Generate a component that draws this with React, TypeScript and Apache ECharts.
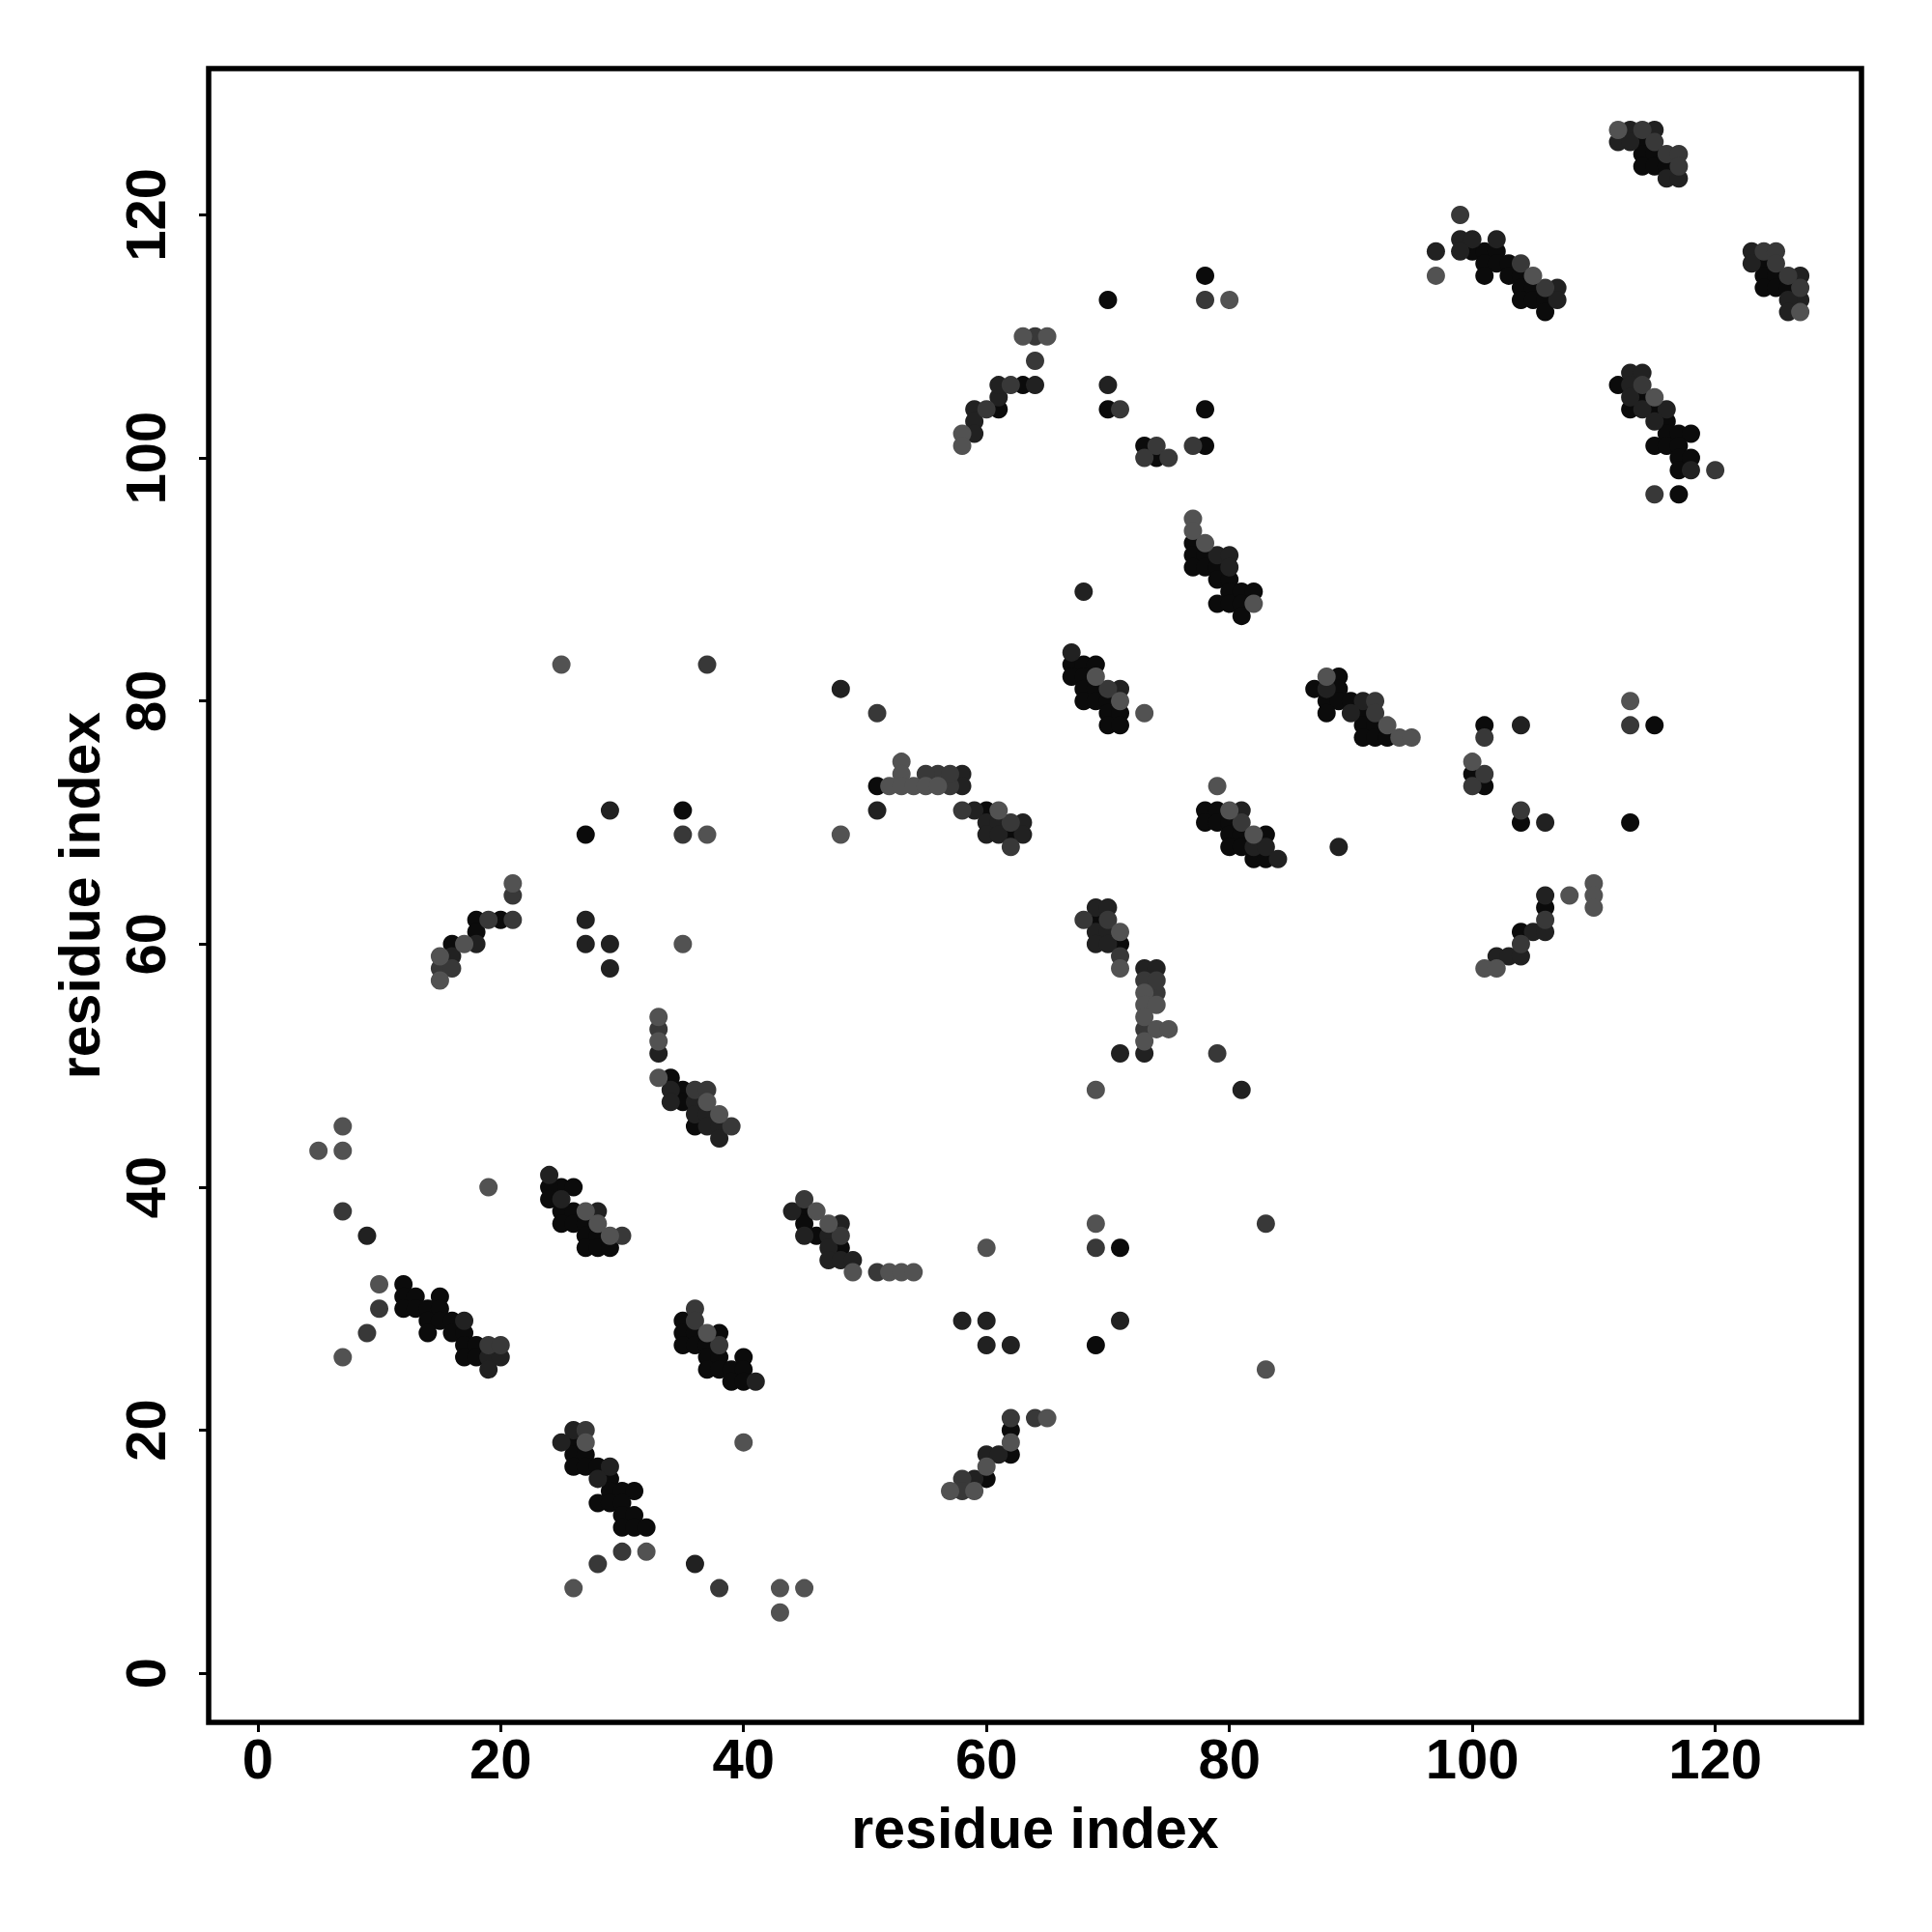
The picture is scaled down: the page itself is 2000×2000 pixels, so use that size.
import React, { useEffect, useRef } from "react";
import * as echarts from "echarts";

// residue contact points [i, j], grouped by grey level (darkest first)
const blackPts: [number, number][] = [
  [78,115],[70,113],[63,106],[70,104],[61,104],[78,104],[73,101],[74,100],[78,101],
  [77,93],[77,92],[78,92],[77,91],[78,91],[79,91],[79,90],[80,90],[80,89],[81,89],[82,89],
  [79,88],[80,88],[81,88],[81,87],
  [114,126],[114,125],[115,125],[114,124],[115,124],[116,124],[100,117],[101,117],[102,117],
  [101,116],[102,116],[103,116],[101,115],[103,115],[104,115],[104,114],[105,114],[104,113],
  [105,113],[106,113],[106,112],[124,116],[124,115],[125,115],[124,114],[125,114],[126,114],
  [112,106],[113,104],[114,105],[115,104],[116,103],[116,102],[117,102],[118,102],[115,101],
  [116,101],[117,101],[117,100],[118,100],[117,99],[117,97],
  [35,71],[27,69],[18,62],[20,62],[18,61],[16,60],[34,49],[35,48],[35,47],[36,45],
  [67,83],[68,83],[69,83],[67,82],[68,82],[68,81],[69,81],[68,80],[69,80],[70,80],[70,79],
  [71,79],[70,78],[71,78],[51,73],[60,71],[62,69],[78,71],[79,71],[78,70],[79,70],[80,70],
  [80,69],[81,69],[83,69],[80,68],[81,68],[82,67],[83,67],[69,62],[71,60],
  [89,82],[87,81],[89,81],[88,80],[89,80],[90,80],[88,79],[91,79],[91,78],[92,78],[91,77],
  [92,77],[93,77],[101,78],[115,78],[100,74],[101,73],[104,70],[113,70],[106,63],[104,61],
  [12,32],[12,31],[13,31],[15,31],[12,30],[13,30],[14,30],[15,30],[14,29],[15,29],[16,29],
  [14,28],[16,28],[17,28],[17,27],[18,27],[17,26],[18,26],[25,40],[26,40],[24,40],[24,39],
  [25,38],[26,38],[25,37],[26,37],[27,37],[27,36],[28,36],[27,35],[28,35],[29,35],[35,29],
  [35,28],[36,28],[38,28],[35,27],[36,27],[37,27],[37,26],[38,26],[40,26],[37,25],[38,25],
  [39,25],[40,25],[39,24],[40,24],[26,19],[26,18],[27,18],[26,17],[27,17],[28,17],[29,16],
  [29,15],[30,15],[31,15],[28,14],[29,14],[30,14],[30,13],[31,13],[30,12],[31,12],[32,12],
  [45,38],[45,37],[46,36],[48,35],[71,35],[69,27],[62,20],[62,18],[60,16]
];

const darkPts: [number, number][] = [
  [64,106],[70,106],[61,105],[59,104],[59,103],[59,102],[79,92],[80,92],[80,91],[68,89],[61,106],
  [113,127],[115,127],[112,126],[113,126],[116,123],[117,123],[97,117],[99,118],[100,118],
  [102,118],[99,117],[107,114],[107,113],[123,117],[123,116],[127,115],[127,113],[126,113],
  [126,112],[113,107],[114,107],[113,106],[113,105],[114,104],[116,104],[115,103],[118,99],
  [29,71],[27,62],[18,60],[27,60],[29,60],[16,59],[29,58],[33,51],[34,48],[34,47],[36,47],
  [36,46],[37,46],[37,45],[38,45],[38,44],
  [67,84],[71,81],[48,81],[58,74],[58,73],[51,71],[59,71],[60,70],[61,70],[63,70],[60,69],
  [61,69],[63,69],[81,71],[82,68],[83,68],[84,67],[69,63],[70,63],[69,61],[70,61],[69,60],
  [70,60],[73,58],[74,58],[73,51],[71,51],[81,48],
  [88,81],[91,80],[90,79],[89,68],[104,78],[106,70],[106,64],[105,61],[106,61],[102,59],
  [103,59],[104,59],
  [9,36],[17,29],[19,26],[20,26],[19,25],[24,41],[25,39],[28,38],[41,24],[26,20],[25,19],
  [29,17],[28,16],[36,9],
  [44,38],[48,37],[45,36],[47,36],[47,35],[47,34],[48,34],[49,34],[58,29],[60,29],[71,29],
  [60,27],[62,27],[60,18],[61,18],[59,16]
];

const mediumPts: [number, number][] = [
  [74,101],[78,113],[64,110],[64,108],[62,106],[60,104],[71,104],[73,100],[75,100],[77,101],
  [114,127],[115,126],[116,125],[117,125],[117,124],[99,120],[104,116],[106,114],[124,117],
  [125,117],[125,116],[126,115],[127,114],[114,106],[120,99],[115,97],
  [37,83],[21,64],[15,58],[16,58],[35,69],[19,62],[21,62],[33,53],[36,48],[37,48],[39,45],
  [70,81],[51,79],[56,74],[57,73],[62,68],[68,62],[71,59],[73,57],[74,56],[79,51],[55,74],
  [57,74],[58,71],[62,70],[81,70],[70,62],[74,57],[73,53],
  [101,74],[104,71],[104,60],[92,80],[92,79],[101,77],[113,78],[100,73],[106,62],
  [7,38],[10,30],[30,36],[36,30],[30,10],[38,7],[27,20],[9,28],[19,27],[20,27],[36,29],
  [38,27],[28,9],
  [51,33],[69,35],[83,37],[64,21],[58,16],[58,15],[45,39],[48,36],[62,21]
];

const grayPts: [number, number][] = [
  [80,113],[63,110],[65,110],[58,102],[58,101],[77,95],[77,94],[78,93],[82,88],
  [112,127],[97,115],[105,115],[127,112],[115,105],
  [25,83],[37,69],[21,65],[17,60],[35,60],[15,59],[15,57],[33,54],[33,52],[33,49],[37,47],
  [38,46],[7,45],[5,43],[7,43],
  [69,82],[71,80],[73,79],[53,75],[53,74],[52,73],[53,73],[54,73],[55,73],[56,73],[48,69],
  [61,71],[79,73],[80,71],[82,69],[71,61],[71,58],[73,56],[73,55],[74,55],[73,54],[74,53],
  [75,53],[73,52],[69,48],
  [88,82],[93,78],[94,77],[95,77],[113,80],[100,75],[110,65],[110,64],[110,63],[108,64],
  [101,58],[102,58],
  [19,40],[10,32],[7,26],[27,38],[28,37],[29,36],[37,28],[40,19],[27,19],[32,10],[26,7],
  [46,38],[47,37],[49,33],[52,33],[53,33],[54,33],[60,35],[69,37],[83,25],[65,21],[62,19],
  [60,17],[57,15],[59,15],[43,7],[45,7],[43,5]
];

const tickValues = [0, 20, 40, 60, 80, 100, 120];
const axisTitle = "residue index";

const FONT = "'Liberation Sans', Arial, Helvetica, sans-serif";

export default function App() {
  const ref = useRef<HTMLDivElement>(null);
  useEffect(() => {
    if (!ref.current) return;
    const chart = echarts.init(ref.current, null, { renderer: "svg" });
    const axisCommon = (isX: boolean) => ({
      type: "value" as const,
      min: -4.04,
      max: 132.04,
      name: axisTitle,
      nameLocation: "middle" as const,
      nameGap: isX ? 80 : 104,
      nameTextStyle: {
        fontFamily: FONT,
        fontWeight: "bold" as const,
        fontSize: 59,
        color: "#000",
      },
      splitLine: { show: false },
      axisLine: { show: false, onZero: false },
      axisTick: {
        show: true,
        customValues: tickValues,
        length: 10,
        inside: false,
        lineStyle: { color: "#000", width: 3 },
      },
      axisLabel: {
        customValues: tickValues,
        fontFamily: FONT,
        fontWeight: "bold" as const,
        fontSize: 58,
        color: "#000",
        margin: isX ? 8 : 37,
        rotate: isX ? 0 : 90,
      },
    });
    const mk = (data: [number, number][], color: string) => ({
      type: "scatter" as const,
      data,
      symbol: "circle",
      symbolSize: 19,
      itemStyle: { color, opacity: 1 },
      silent: true,
    });
    chart.setOption({
      animation: false,
      backgroundColor: "#ffffff",
      grid: {
        left: 216,
        top: 71,
        width: 1711,
        height: 1712,
        show: true,
        borderColor: "#000",
        borderWidth: 5.5,
        backgroundColor: "transparent",
      },
      xAxis: axisCommon(true),
      yAxis: axisCommon(false),
      series: [
        mk(blackPts, "#0b0b0b"),
        mk(darkPts, "#212121"),
        mk(mediumPts, "#383838"),
        mk(grayPts, "#525252"),
      ],
    });
    return () => chart.dispose();
  }, []);
  return (
    <div
      ref={ref}
      style={{ position: "absolute", left: 0, top: 0, width: 2000, height: 2000 }}
    />
  );
}
